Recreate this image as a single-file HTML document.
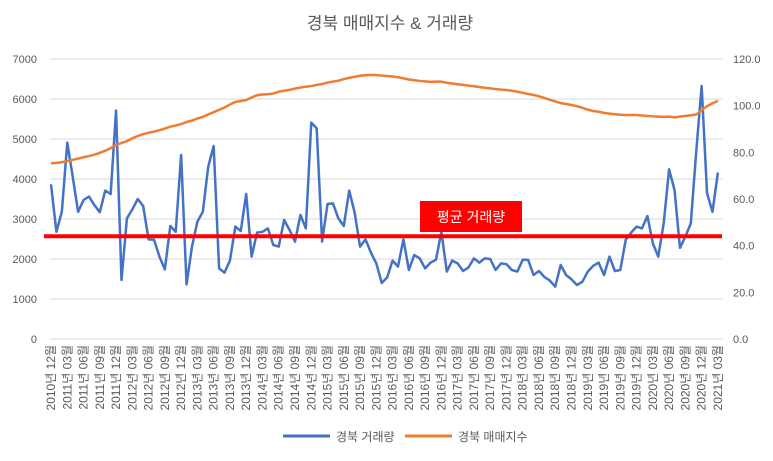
<!DOCTYPE html>
<html><head><meta charset="utf-8"><style>
body{margin:0;background:#fff;}
svg text{font-family:"Liberation Sans","Noto Sans CJK KR",sans-serif;}
</style></head><body>
<svg id="chart" width="773" height="456" xmlns="http://www.w3.org/2000/svg">
<rect width="773" height="456" fill="#fff"/>
<text x="390" y="29" text-anchor="middle" font-size="17" fill="#595959">경북 매매지수 &amp; 거래량</text>
<g id="grid"></g><g id="yl"></g><g id="yr"></g><g id="xl"></g>
<g id="series"></g>
<g>
<rect x="420" y="201" width="102" height="31" fill="#ff0000"/>
<text x="471" y="222" text-anchor="middle" font-size="14" fill="#fff">평균 거래량</text>
</g>
<g>
<line x1="283" y1="436" x2="330" y2="436" stroke="#4472c4" stroke-width="3"/>
<text x="336" y="441" font-size="12" fill="#595959">경북 거래량</text>
<line x1="405" y1="436" x2="452" y2="436" stroke="#ed7d31" stroke-width="3"/>
<text x="458" y="441" font-size="12" fill="#595959">경북 매매지수</text>
</g>
</svg>
<script>
const volume=[3865,2680,3180,4910,4060,3180,3475,3560,3350,3170,3710,3625,
5710,1475,3015,3240,3500,3325,2490,2480,2060,1740,2825,2680,
4600,1365,2310,2935,3180,4310,4825,1765,1660,1960,2810,2700,
3625,2060,2660,2680,2765,2350,2310,2975,2725,2435,3100,2765,
5410,5265,2435,3375,3390,3015,2825,3710,3160,2310,2490,2160,
1890,1400,1540,1960,1810,2490,1725,2100,2015,1765,1910,1980,
2680,1685,1960,1890,1700,1790,2015,1910,2015,2000,1725,1890,
1870,1725,1685,1980,1980,1600,1700,1550,1460,1310,1850,1600,
1490,1350,1430,1685,1830,1910,1600,2060,1700,1725,2480,2660,
2810,2765,3075,2390,2060,2890,4240,3725,2280,2560,2890,4680,
6325,3640,3180,4160];
const priceIndex=[75.3,75.5,75.8,76.2,76.8,77.3,77.9,78.4,79.0,79.8,80.7,81.8,
83.1,84.0,84.8,86.0,87.0,87.8,88.4,88.9,89.5,90.2,91.0,91.5,
92.1,93.0,93.6,94.5,95.2,96.2,97.2,98.2,99.2,100.5,101.6,102.0,
102.4,103.5,104.5,104.8,104.9,105.2,106.0,106.4,106.8,107.3,107.8,108.1,
108.4,108.9,109.3,109.9,110.3,110.7,111.4,111.9,112.4,112.8,113.1,113.2,
113.1,112.9,112.7,112.5,112.2,111.7,111.2,110.9,110.6,110.4,110.2,110.3,
110.3,109.8,109.5,109.2,108.9,108.6,108.3,108.0,107.7,107.4,107.1,106.9,
106.7,106.4,106.0,105.5,105.0,104.6,104.0,103.3,102.5,101.8,101.1,100.7,
100.3,99.8,99.1,98.3,97.7,97.4,96.9,96.6,96.3,96.1,96.0,96.0,
96.0,95.8,95.6,95.4,95.3,95.2,95.3,95.0,95.3,95.6,95.9,96.2,
98.1,99.8,101.0,102.1];
const averageVolume=2570;
const leftTicks=[0,1000,2000,3000,4000,5000,6000,7000];
const rightTicks=["0.0","20.0","40.0","60.0","80.0","100.0","120.0"];
const startYear=2010,startMonth=12;
const NS="http://www.w3.org/2000/svg";
const X0=51,DX=5.422,Y0=339,Y1=59;
const xs=i=>X0+i*DX;
const yL=v=>Y0-(v/7000)*(Y0-Y1);
const yR=v=>Y0-(v/120)*(Y0-Y1);
function mk(t,a,p){const e=document.createElementNS(NS,t);for(const k in a)e.setAttribute(k,a[k]);p.appendChild(e);return e;}
const g=document.getElementById('grid'),yl=document.getElementById('yl'),yr=document.getElementById('yr'),xl=document.getElementById('xl'),sg=document.getElementById('series');
leftTicks.forEach(v=>{const l=mk('line',{x1:50,x2:722,y1:yL(v),y2:yL(v),stroke:'#d9d9d9','stroke-width':1},g);


const t=mk('text',{x:37,y:yL(v)+4,'text-anchor':'end','font-size':11,fill:'#595959'},yl);t.textContent=v;

});
rightTicks.forEach(s=>{const t=mk('text',{x:733,y:yR(parseFloat(s))+4,'font-size':11,fill:'#595959'},yr);t.textContent=s;

});
for(let i=0;i<volume.length;i+=3){let m=startMonth-1+i;const y=startYear+Math.floor(m/12);m=m%12+1;
const x=xs(i)+4;const t=mk('text',{x:x,y:345,'text-anchor':'end','font-size':12,fill:'#595959',transform:`rotate(-90 ${x} 345)`},xl);
t.textContent=`${y}년 ${String(m).padStart(2,'0')}월`;

}
const pv=mk('polyline',{points:volume.map((v,i)=>xs(i)+','+yL(v)).join(' '),fill:'none',stroke:'#4472c4','stroke-width':2.5,'stroke-linejoin':'round'},sg);


const pp=mk('polyline',{points:priceIndex.map((v,i)=>xs(i)+','+yR(v)).join(' '),fill:'none',stroke:'#ed7d31','stroke-width':2.5,'stroke-linejoin':'round'},sg);


const al=mk('line',{x1:44,x2:722,y1:yL(averageVolume),y2:yL(averageVolume),stroke:'#ff0000','stroke-width':4},sg);


</script>
</body></html>
